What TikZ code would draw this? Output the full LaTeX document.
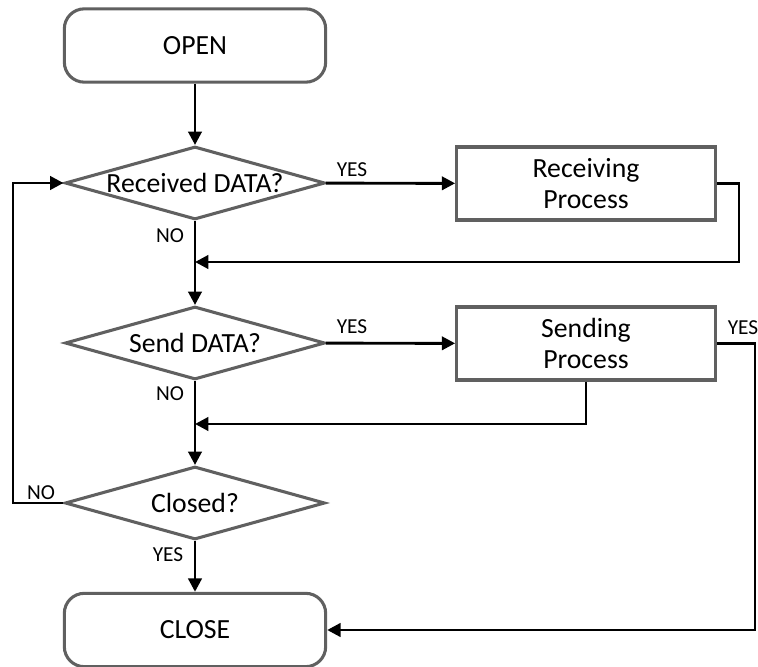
\documentclass[tikz,border=0pt]{standalone}
\usepackage{fontspec}
\setmainfont{Carlito}
\usetikzlibrary{shapes.geometric,arrows.meta}
\definecolor{shapegray}{RGB}{96,96,96}
\begin{document}
\begin{tikzpicture}[x=0.75pt,y=-0.75pt,
    terminal/.style={draw=shapegray,line width=2.3pt,rounded corners=15pt,
        minimum width=196pt,minimum height=55pt,font=\fontsize{20.8pt}{23pt}\selectfont},
    decision/.style={draw=shapegray,line width=2.3pt,diamond,aspect=3.56,inner sep=0pt,
        minimum width=195pt,minimum height=54.75pt,font=\fontsize{20.8pt}{23pt}\selectfont},
    process/.style={draw=shapegray,line width=2.3pt,align=center,
        minimum width=194pt,minimum height=54.75pt,font=\fontsize{20.8pt}{23pt}\selectfont},
    flow/.style={line width=2.2pt,-{Triangle[length=10pt,width=10pt]}},
    answer/.style={font=\fontsize{16pt}{18pt}\selectfont}]
    \useasboundingbox (0,0) rectangle (758,667);
    % shapes
    \node[terminal] (open) at (195,45.5) {OPEN};
    \node[decision] (recv) at (195,183) {Received DATA?};
    \node[process] (recvproc) at (586,183.5) {Receiving\\Process};
    \node[decision] (send) at (195,343) {Send DATA?};
    \node[process] (sendproc) at (586,343.5) {Sending\\Process};
    \node[decision] (closed) at (195,503) {Closed?};
    \node[terminal] (close) at (195,630) {CLOSE};
    % helper points
    \coordinate (loopL) at (13,503);
    \coordinate (r1) at (739,262);
    \coordinate (j1) at (195,262);
    \coordinate (j2) at (195,424);
    \coordinate (r2) at (755,630);
    % connectors
    \draw[flow] (open) -- (recv);
    \draw[flow] (recv) -- (recvproc);
    \draw[flow] (recvproc.east) -| (r1) -- (j1);
    \draw[flow] (recv) -- (send);
    \draw[flow] (send) -- (sendproc);
    \draw[flow] (sendproc.south) |- (j2);
    \draw[flow] (sendproc.east) -| (r2) -- (close.east);
    \draw[flow] (send) -- (closed);
    \draw[flow] (closed) -- (close);
    \draw[flow] (closed.west) -- (loopL) |- (recv.west);
    % labels
    \node[answer] at (352,170) {YES};
    \node[answer] at (170,236) {NO};
    \node[answer] at (352,327) {YES};
    \node[answer] at (170,394) {NO};
    \node[answer] at (743,328) {YES};
    \node[answer] at (41,493) {NO};
    \node[answer] at (168,555) {YES};
\end{tikzpicture}
\end{document}
